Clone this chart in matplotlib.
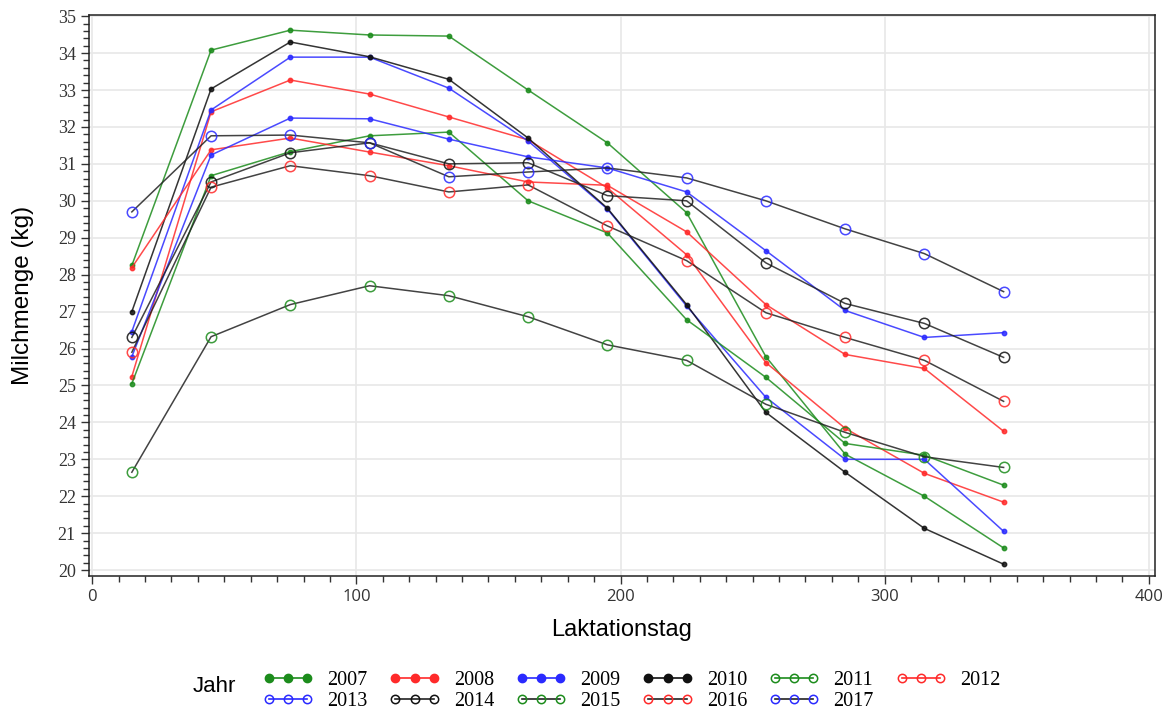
import matplotlib
matplotlib.use("Agg")
import matplotlib.pyplot as plt
from matplotlib.lines import Line2D
from matplotlib.ticker import MultipleLocator, AutoMinorLocator

# -------- DATA --------
days = [15, 45, 75, 105, 135, 165, 195, 225, 255, 285, 315, 345]

y2007 = [28.25, 34.08, 34.62, 34.49, 34.46, 33.00, 31.57, 29.68, 25.78, 23.14, 22.00, 20.60]
y2008 = [25.24, 32.41, 33.27, 32.89, 32.27, 31.65, 30.35, 28.54, 25.62, 23.84, 22.62, 21.84]
y2009 = [26.46, 32.46, 33.89, 33.89, 33.05, 31.62, 29.78, 27.15, 24.68, 23.00, 23.00, 21.05]
y2010 = [27.00, 33.03, 34.30, 33.90, 33.29, 31.70, 29.80, 27.19, 24.27, 22.65, 21.13, 20.16]
y2011 = [25.05, 30.68, 31.33, 31.76, 31.86, 30.00, 29.13, 26.78, 25.22, 23.43, 23.11, 22.30]
y2012 = [28.19, 31.38, 31.70, 31.32, 30.95, 30.51, 30.42, 29.16, 27.19, 25.84, 25.46, 23.76]
y2013 = [25.78, 31.24, 32.24, 32.22, 31.67, 31.19, 30.89, 30.24, 28.65, 27.03, 26.30, 26.43]
y2014 = [26.30, 30.51, 31.30, 31.57, 31.00, 31.03, 30.14, 30.00, 28.32, 27.22, 26.68, 25.76]
y2015 = [22.65, 26.32, 27.19, 27.70, 27.43, 26.86, 26.10, 25.68, 24.49, 23.73, 23.07, 22.78]
y2016 = [25.90, 30.37, 30.95, 30.68, 30.24, 30.43, 29.32, 28.38, 26.97, 26.30, 25.68, 24.57]
y2017 = [29.70, 31.76, 31.78, 31.57, 30.65, 30.78, 30.89, 30.62, 30.00, 29.24, 28.57, 27.54]

years = ["2007", "2008", "2009", "2010", "2011", "2012", "2013",
         "2014", "2015", "2016", "2017"]
values = [y2007, y2008, y2009, y2010, y2011, y2012, y2013,
          y2014, y2015, y2016, y2017]

# -------- STYLE --------
GREEN, RED, BLUE, BLACK = "#1c8c1c", "#ff2a2a", "#2a2aff", "#111111"
marker_col = [GREEN, RED, BLUE, BLACK, GREEN, RED, BLUE,
              BLACK, GREEN, RED, BLUE]
line_col = [GREEN, RED, BLUE, BLACK, GREEN, RED, BLUE,
            "#222222", "#222222", "#222222", "#222222"]

fig = plt.figure(figsize=(11.67, 7.16), dpi=100)
ax = fig.add_axes([0.0763, 0.1955, 0.9134, 0.7835])

for i, (yr, v) in enumerate(zip(years, values)):
    if i < 7:
        ax.plot(days, v, color=line_col[i], lw=1.1, alpha=0.85, zorder=3,
                marker="o", ms=3.2, mfc=marker_col[i], mec=marker_col[i])
    else:
        ax.plot(days, v, color=line_col[i], lw=1.1, alpha=0.85, zorder=3,
                marker="o", ms=7.5, mfc="none", mec=marker_col[i], mew=1.1)

ax.set_xlim(-1.2, 402.3)
ax.set_ylim(19.84, 35.03)
ax.xaxis.set_major_locator(MultipleLocator(100))
ax.xaxis.set_minor_locator(AutoMinorLocator(10))
ax.yaxis.set_major_locator(MultipleLocator(1))
ax.yaxis.set_minor_locator(AutoMinorLocator(5))
ax.grid(True, which="major", color="#e8e8e8", lw=1.2, zorder=0)
ax.tick_params(which="major", direction="out", length=6, width=1, colors="#333333")
ax.tick_params(which="minor", direction="out", length=4, width=1, colors="#333333")
for lab in ax.get_yticklabels():
    lab.set_fontfamily("Liberation Serif")
    lab.set_fontsize(13)
for lab in ax.get_xticklabels():
    lab.set_fontfamily("Open Sans")
    lab.set_fontsize(12)
for sp in ax.spines.values():
    sp.set_color("#222222")
    sp.set_linewidth(1.1)

ax.set_xlabel("Laktationstag", fontsize=17, family="Liberation Sans", labelpad=10)
ax.set_ylabel("Milchmenge (kg)", fontsize=17.5, family="Liberation Sans", labelpad=17)

# -------- LEGEND --------
handles = []
for i in range(len(years)):
    if i < 4:
        h = Line2D([], [], color=line_col[i], lw=1.2, marker="o", ms=6,
                   mfc=marker_col[i], mec=marker_col[i])
    else:
        lc = marker_col[i] if i < 7 else line_col[i]
        h = Line2D([], [], color=lc, lw=1.2, marker="o", ms=6,
                   mfc="none", mec=marker_col[i], mew=1.1)
    handles.append(h)

order = [0, 6, 1, 7, 2, 8, 3, 9, 4, 10, 5]
fig.legend([handles[k] for k in order], [years[k] for k in order],
           ncol=6, loc="upper left", bbox_to_anchor=(263 / 1167, 1 - 671 / 716),
           frameon=False, numpoints=3, handlelength=2.5, handletextpad=0.7,
           columnspacing=1.08, labelspacing=0.08, borderpad=0, borderaxespad=0,
           prop={"family": "Liberation Serif", "size": 14.5})
fig.text(193 / 1167, 1 - 686 / 716, "Jahr", fontsize=16, family="Liberation Sans",
         va="center", ha="left")

fig.savefig("out.png", dpi=100)
